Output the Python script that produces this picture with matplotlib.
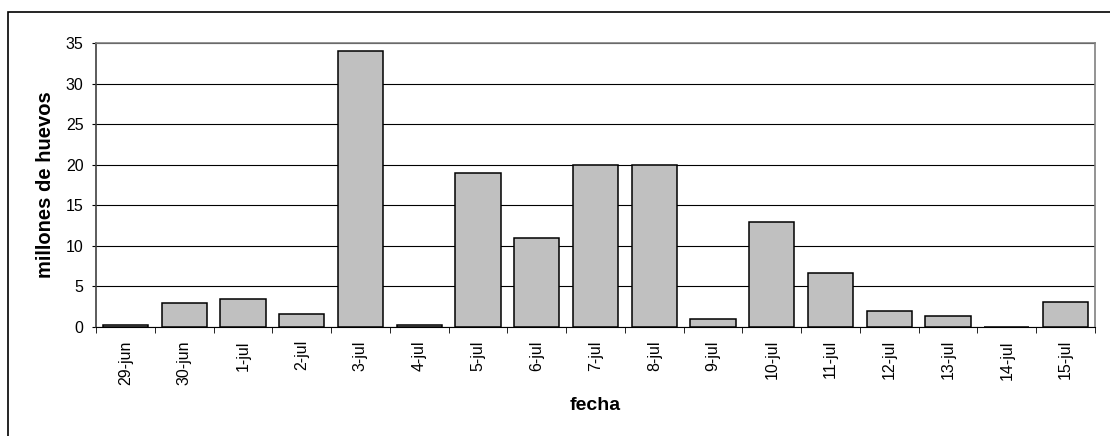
import matplotlib.pyplot as plt
import numpy as np
from matplotlib.patches import Rectangle

plt.rcParams["font.family"] = ["Liberation Sans", "DejaVu Sans"]

fechas = ["29-jun", "30-jun", "1-jul", "2-jul", "3-jul", "4-jul", "5-jul", "6-jul",
          "7-jul", "8-jul", "9-jul", "10-jul", "11-jul", "12-jul", "13-jul", "14-jul", "15-jul"]
huevos = [0.2, 2.9, 3.45, 1.55, 34.0, 0.2, 19.0, 11.0,
          20.0, 20.0, 1.0, 12.9, 6.7, 2.0, 1.4, 0.0, 3.1]

W, H = 1110, 436
fig = plt.figure(figsize=(W / 100, H / 100), dpi=100)
ax = fig.add_axes([96 / W, 1 - 327 / H, (1095 - 96) / W, (327 - 43) / H])

# outer chart frame (only top and left edges fall inside the image)
fig.patches.append(Rectangle((8 / W, -0.05), 1.2, 1 - 12 / H + 0.05,
                             transform=fig.transFigure, fill=False,
                             edgecolor="black", linewidth=1.2))

x = np.arange(len(fechas))
ax.bar(x, huevos, width=0.77, color="#c0c0c0", edgecolor="black", linewidth=1.1, zorder=3)

ax.set_xlim(-0.5, len(fechas) - 0.5)
ax.set_ylim(0, 35)
ax.set_yticks(np.arange(0, 36, 5))
ax.yaxis.grid(True, color="black", linewidth=0.8, zorder=0)
ax.set_axisbelow(True)

ax.set_xticks(x)
ax.set_xticklabels(fechas, rotation=90)
ax.set_xticks(np.arange(-0.5, len(fechas), 1), minor=True)
ax.tick_params(axis="x", which="major", length=0, pad=9.5, labelsize=11.5)
ax.tick_params(axis="x", which="minor", length=4.3, direction="out", color="black")
ax.tick_params(axis="y", length=3, pad=6, direction="out", labelsize=11.5, color="black")

for side in ["top", "right"]:
    ax.spines[side].set_color("#808080")
    ax.spines[side].set_linewidth(1.2)
ax.spines["left"].set_color("#404040")
ax.spines["left"].set_linewidth(1.2)
ax.spines["bottom"].set_color("black")

ax.set_xlabel("fecha", fontsize=14, fontweight="bold")
ax.set_ylabel("millones de huevos", fontsize=14.5, fontweight="bold")
ax.xaxis.set_label_coords(0.5, (327 - 397) / (327 - 43))
ax.yaxis.set_label_coords((55 - 96) / (1095 - 96), 0.5)

fig.savefig("out.png", dpi=100)
